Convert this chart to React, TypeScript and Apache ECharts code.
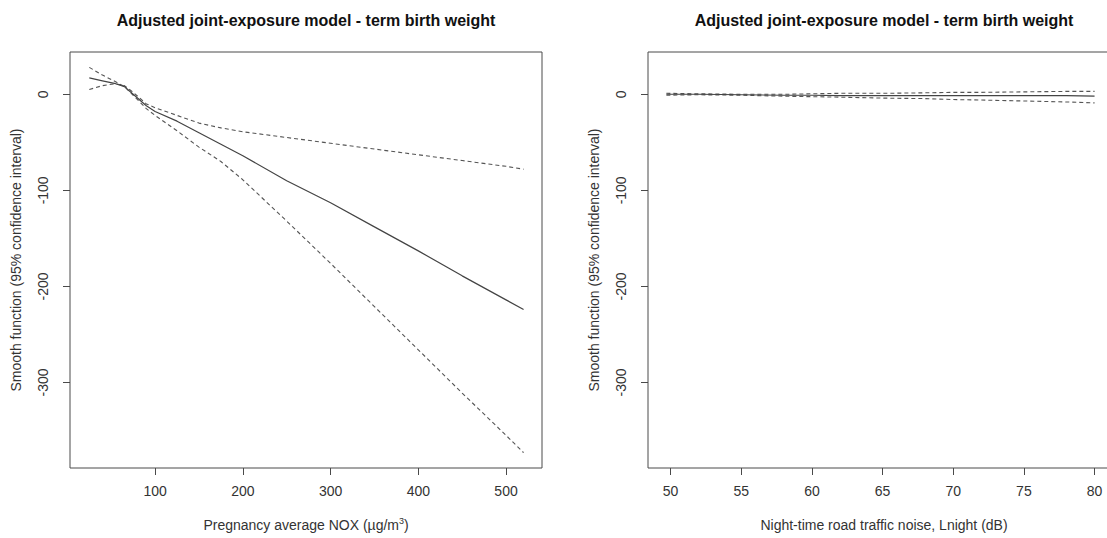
import React, { useEffect, useRef } from "react";
import * as echarts from "echarts";

// Panel 1: pregnancy average NOX (µg/m³) smooth term with 95% CI
const noxX = [25, 40, 55, 65, 75, 90, 100, 125, 150, 175, 200, 250, 300, 350, 400, 450, 500, 520];
const noxFit = [17, 14, 11, 8, 0, -12, -18, -28, -40, -52, -64, -90, -113, -138, -163, -189, -214, -224];
const noxBandA = [5, 9, 11, 9, 2, -10, -14, -22, -30, -35, -39, -45, -51, -57, -63, -69, -75, -78];
const noxBandB = [28, 20, 13, 8, -1, -15, -22, -38, -55, -70, -89, -132, -176, -221, -266, -311, -355, -373];
const noxTicks = [100, 200, 300, 400, 500];

// Panel 2: night-time road traffic noise (dB) smooth term with 95% CI
const noiseX = [49.7, 52, 55, 58, 60, 62, 65, 68, 70, 72, 75, 78, 80];
const noiseFit = [0, 0, -0.5, -1, -1, -1.5, -1.5, -1.5, -1.5, -1.5, -1.5, -1.5, -2];
const noiseUpper = [1, 0.5, 0, 0, 0.5, 1, 1, 1.5, 2, 2, 2.5, 3, 3];
const noiseLower = [-1, -0.5, -1, -2, -2.5, -3, -4, -4.5, -5.5, -6, -7, -8, -9];
const noiseTicks = [50, 55, 60, 65, 70, 75, 80];

const yTicks = [0, -100, -200, -300];

const TITLE = "Adjusted joint-exposure model - term birth weight";
const Y_NAME = "Smooth function (95% confidence interval)";
const FONT = '"Liberation Sans", Arial, sans-serif';

const pairs = (xs: number[], ys: number[]) => xs.map((x, i) => [x, ys[i]]);

const frameColor = "#4a4a4a";
const textColor = "#333";

function xAxisFor(gridIndex: number, min: number, max: number, ticks: number[], name: string) {
  return {
    type: "value",
    gridIndex,
    min,
    max,
    axisLine: { show: false, onZero: false },
    splitLine: { show: false },
    axisTick: {
      show: true,
      inside: false,
      length: 7,
      customValues: ticks,
      lineStyle: { color: frameColor, width: 1 },
    },
    axisLabel: {
      customValues: ticks,
      margin: 16,
      fontSize: 14,
      color: textColor,
      fontFamily: FONT,
    },
    name,
    nameLocation: "middle",
    nameGap: 48,
    nameTextStyle: {
      fontSize: 14,
      color: textColor,
      fontFamily: FONT,
      lineHeight: 17,
      rich: {
        sup: { fontSize: 9, lineHeight: 9, verticalAlign: "top", color: textColor, fontFamily: FONT },
      },
    },
  };
}

function yAxisFor(gridIndex: number) {
  return {
    type: "value",
    gridIndex,
    min: -389,
    max: 44,
    axisLine: { show: false, onZero: false },
    splitLine: { show: false },
    axisTick: {
      show: true,
      inside: false,
      length: 7,
      customValues: yTicks,
      lineStyle: { color: frameColor, width: 1 },
    },
    axisLabel: {
      customValues: yTicks,
      rotate: 90,
      margin: 20,
      fontSize: 14,
      color: textColor,
      fontFamily: FONT,
    },
    name: Y_NAME,
    nameLocation: "middle",
    nameGap: 47,
    nameTextStyle: { fontSize: 14, color: textColor, fontFamily: FONT },
  };
}

function lineSeries(idx: number, data: number[][], dashed: boolean) {
  return {
    type: "line",
    xAxisIndex: idx,
    yAxisIndex: idx,
    data,
    showSymbol: false,
    symbol: "none",
    silent: true,
    lineStyle: dashed
      ? { color: "#555", width: 1.1, type: [4, 3] }
      : { color: "#444", width: 1.2, type: "solid" },
  };
}

export default function App() {
  const ref = useRef<HTMLDivElement>(null);

  useEffect(() => {
    if (!ref.current) return;
    const chart = echarts.init(ref.current, undefined, { renderer: "svg" });
    chart.setOption({
      animation: false,
      backgroundColor: "#ffffff",
      grid: [
        { left: 70, top: 52, width: 472, height: 418, show: true, borderColor: frameColor, borderWidth: 1, backgroundColor: "transparent" },
        { left: 648, top: 52, width: 472, height: 418, show: true, borderColor: frameColor, borderWidth: 1, backgroundColor: "transparent" },
      ],
      xAxis: [
        xAxisFor(0, 3, 541, noxTicks, "Pregnancy average NOX (\u00b5g/m{sup|3})"),
        xAxisFor(1, 48.4, 81.8, noiseTicks, "Night-time road traffic noise, Lnight (dB)"),
      ],
      yAxis: [yAxisFor(0), yAxisFor(1)],
      series: [
        lineSeries(0, pairs(noxX, noxBandA), true),
        lineSeries(0, pairs(noxX, noxBandB), true),
        lineSeries(0, pairs(noxX, noxFit), false),
        lineSeries(1, pairs(noiseX, noiseUpper), true),
        lineSeries(1, pairs(noiseX, noiseLower), true),
        lineSeries(1, pairs(noiseX, noiseFit), false),
      ],
      graphic: [
        {
          type: "text",
          x: 306,
          y: 20,
          style: {
            text: TITLE,
            textAlign: "center",
            textVerticalAlign: "middle",
            font: `bold 16px ${FONT}`,
            fill: "#111",
          },
        },
        {
          type: "text",
          x: 884,
          y: 20,
          style: {
            text: TITLE,
            textAlign: "center",
            textVerticalAlign: "middle",
            font: `bold 16px ${FONT}`,
            fill: "#111",
          },
        },
      ],
    });
    return () => chart.dispose();
  }, []);

  // The right panel's frame runs past the page edge, so the chart is wider than the visible area.
  return (
    <div style={{ position: "fixed", left: 0, top: 0, width: 1107, height: 538, overflow: "hidden", background: "#fff" }}>
      <div ref={ref} style={{ width: 1130, height: 538 }} />
    </div>
  );
}
